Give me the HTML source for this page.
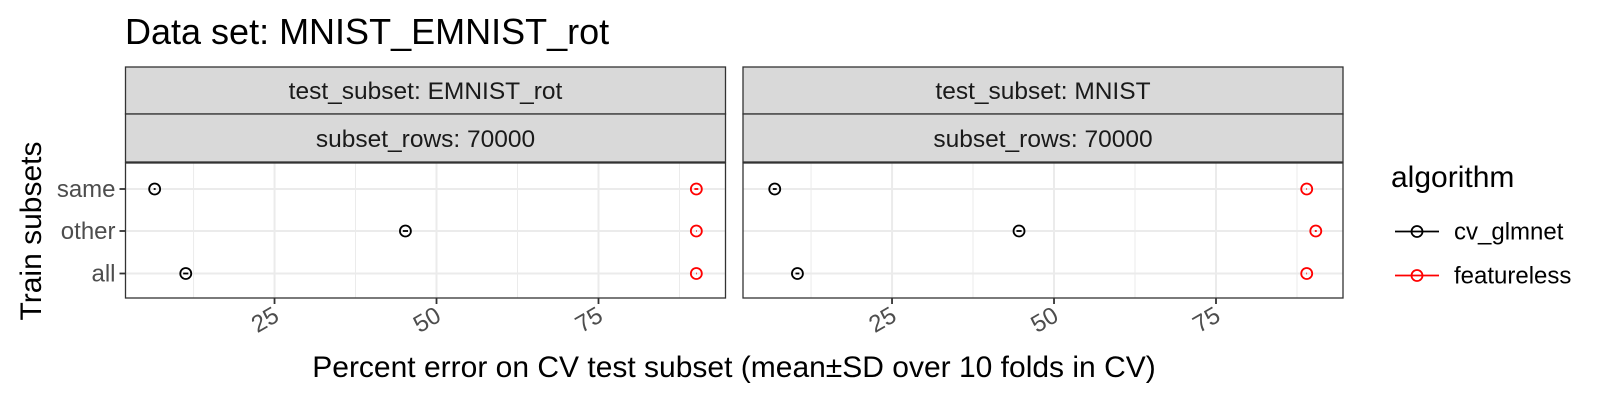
<!DOCTYPE html>
<html><head><meta charset="utf-8"><style>
body{margin:0;background:#fff;}
svg{display:block;font-family:"Liberation Sans",sans-serif;}
</style></head><body>
<svg id="chart" width="1600" height="400">
<text x="125" y="44" font-size="36" fill="#000">Data set: MNIST_EMNIST_rot</text>
<text transform="translate(41,231) rotate(-90)" text-anchor="middle" font-size="30" fill="#000">Train subsets</text>
<text x="734" y="377" text-anchor="middle" font-size="30" fill="#000">Percent error on CV test subset (mean±SD over 10 folds in CV)</text>
<g id="panels"></g>
<g>
<text x="1391" y="187" font-size="30" fill="#000">algorithm</text>
<g>
<line x1="1395" y1="231.5" x2="1439" y2="231.5" stroke="#000" stroke-width="1.8"/><circle cx="1417" cy="231.5" r="5.5" fill="none" stroke="#000" stroke-width="1.8"/>
<text x="1454" y="239.5" font-size="24" fill="#000">cv_glmnet</text></g>
<g>
<line x1="1395" y1="275.5" x2="1439" y2="275.5" stroke="#f00" stroke-width="1.8"/><circle cx="1417" cy="275.5" r="5.5" fill="none" stroke="#f00" stroke-width="1.8"/>
<text x="1454" y="283.5" font-size="24" fill="#000">featureless</text></g>
</g>
</svg>
<script>
const panelTitles = ["test_subset: EMNIST_rot", "test_subset: MNIST"];
const rowsLabel = "subset_rows: 70000";
const categories = ["same", "other", "all"];
const glmnetMean = [[6.5, 45.2, 11.3], [6.9, 44.6, 10.4]];
const glmnetSD = [[0.15, 0.4, 0.4], [0.3, 0.4, 0.3]];
const featurelessMean = [[90.1, 90.1, 90.1], [89.0, 90.4, 89.0]];
const featurelessSD = [[0.3, 0.05, 0.05], [0.05, 0.15, 0.05]];
const xTicks = [25, 50, 75];
const xMinor = [12.5, 37.5, 62.5, 87.5];
const xDomain = [2.0, 94.6];

const NS = "http://www.w3.org/2000/svg";
const root = document.getElementById("panels");
function mk(tag, attrs, parent) {
  const e = document.createElementNS(NS, tag);
  for (const k in attrs) e.setAttribute(k, attrs[k]);
  parent.appendChild(e);
  return e;
}
const panelLefts = [125.5, 743], pw = 600, pTop = 163, pBottom = 298;
const rowY = [189, 231, 273.5];
panelLefts.forEach((L, p) => {
  const g = mk("g", {}, root);
  
  
  const xs = v => L + (v - xDomain[0]) / (xDomain[1] - xDomain[0]) * pw;
  const s1 = mk("rect", {x: L, y: 67, width: pw, height: 47, fill: "#d9d9d9", stroke: "#333", "stroke-width": 1.3}, g);
  
  
  const s2 = mk("rect", {x: L, y: 114, width: pw, height: 48, fill: "#d9d9d9", stroke: "#333", "stroke-width": 1.3}, g);
  
  
  let t = mk("text", {x: L + pw / 2, y: 99, "text-anchor": "middle", "font-size": 24.5, fill: "#1a1a1a"}, g);
  t.textContent = panelTitles[p];
  
  
  t = mk("text", {x: L + pw / 2, y: 147, "text-anchor": "middle", "font-size": 24.5, fill: "#1a1a1a"}, g);
  t.textContent = rowsLabel;
  
  
  xMinor.forEach(v => mk("line", {x1: xs(v), x2: xs(v), y1: pTop, y2: pBottom, stroke: "#ebebeb", "stroke-width": 1}, g));
  xTicks.forEach(v => mk("line", {x1: xs(v), x2: xs(v), y1: pTop, y2: pBottom, stroke: "#ebebeb", "stroke-width": 2}, g));
  rowY.forEach(y => mk("line", {x1: L, x2: L + pw, y1: y, y2: y, stroke: "#ebebeb", "stroke-width": 2}, g));
  xTicks.forEach(v => {
    mk("line", {x1: xs(v), x2: xs(v), y1: pBottom, y2: pBottom + 6, stroke: "#333", "stroke-width": 1.8}, g);
    const lb = mk("text", {transform: `translate(${xs(v) + 6},${pBottom + 22}) rotate(-30)`, "text-anchor": "end", "font-size": 24, fill: "#4d4d4d"}, g);
    lb.textContent = v;
    
    
  });
  if (p === 0) {
    categories.forEach((c, i) => {
      mk("line", {x1: L - 6, x2: L, y1: rowY[i], y2: rowY[i], stroke: "#333", "stroke-width": 1.8}, g);
      const lb = mk("text", {x: L - 10, y: rowY[i] + 8, "text-anchor": "end", "font-size": 24, fill: "#4d4d4d"}, g);
      lb.textContent = c;
      
      
    });
  }
  mk("rect", {x: L, y: pTop, width: pw, height: pBottom - pTop, fill: "none", stroke: "#333", "stroke-width": 1.3}, g);
  [[glmnetMean, glmnetSD, "#000", "cv-glmnet"], [featurelessMean, featurelessSD, "#f00", "featureless"]].forEach(([m, sd, col, nm]) => {
    categories.forEach((c, i) => {
      const v = m[p][i], s = sd[p][i], y = rowY[i];
      const ln = mk("line", {x1: xs(v - s), x2: xs(v + s), y1: y, y2: y, stroke: col, "stroke-width": 1.8}, g);
      
      
      const pt = mk("circle", {cx: xs(v), cy: y, r: 5.5, fill: "none", stroke: col, "stroke-width": 1.8}, g);
      
      
    });
  });
});
</script>
</body></html>
